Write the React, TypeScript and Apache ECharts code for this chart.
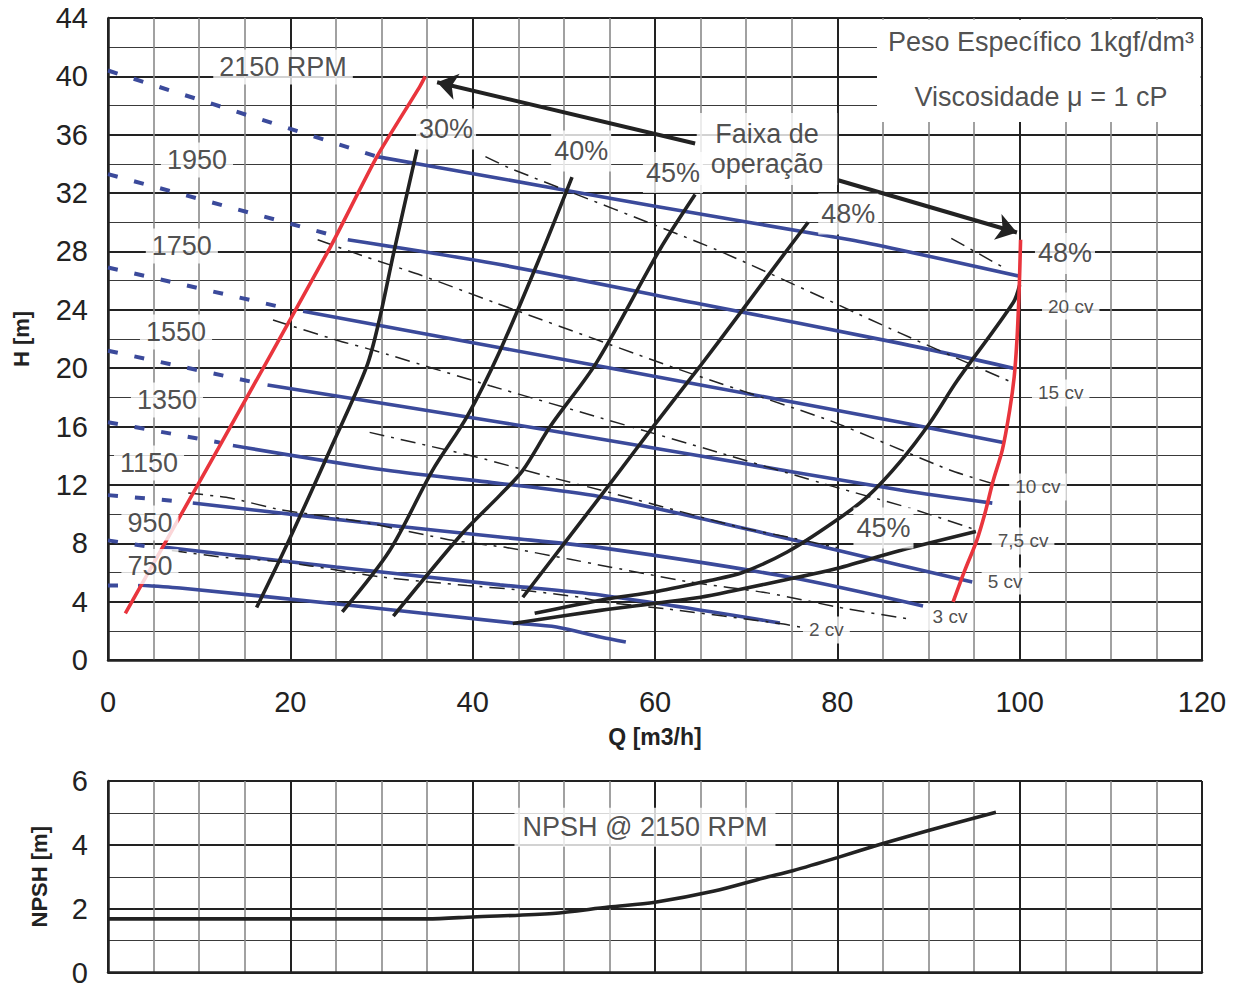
import React, { useEffect, useRef } from "react";
import * as echarts from "echarts";

type P = [number, number];

// ---------- Tick ranges ----------
const qTicks = { min: 0, max: 120, step: 20 };
const hTicks = { min: 0, max: 44, step: 4 };
const npshTicks = { min: 0, max: 6, step: 2 };

// ---------- RPM curves (H [m] vs Q [m3/h]) ----------
const rpm2150Dashed: P[] = [[0, 40.4], [29.5, 34.5]];
const rpm2150: P[] = [[29.5, 34.5], [43, 33.0], [60, 31.1], [81.4, 28.8], [86.9, 28.1], [100, 26.3]];
const rpm1950Dashed: P[] = [[0, 33.3], [24.7, 29.1]];
const rpm1950: P[] = [[26.3, 28.8], [43, 27.1], [65, 24.4], [86.9, 21.7], [99.3, 20.0]];
const rpm1750Dashed: P[] = [[0, 26.9], [18.9, 24.2]];
const rpm1750: P[] = [[21.4, 23.9], [43, 21.4], [65, 18.85], [86.9, 16.3], [98.2, 14.9]];
const rpm1550Dashed: P[] = [[0, 21.2], [15.9, 19.05]];
const rpm1550: P[] = [[17.5, 18.85], [43, 16.3], [54, 15.15], [65, 13.98], [86.9, 11.65], [97, 10.75]];
const rpm1350Dashed: P[] = [[0, 16.3], [12.3, 14.9]];
const rpm1350: P[] = [[13.7, 14.7], [30.6, 13.0], [43, 12.1], [54, 11.19], [71.5, 8.77], [86.9, 6.5], [94.8, 5.35]];
const rpm1150Dashed: P[] = [[0, 11.3], [7.35, 10.9]];
const rpm1150: P[] = [[9.3, 10.76], [29.8, 9.3], [43, 8.43], [54, 7.7], [74.5, 5.7], [89.4, 3.7]];
const rpm950Dashed: P[] = [[0, 8.2], [4.1, 7.8]];
const rpm950: P[] = [[6.0, 7.75], [25, 6.37], [43, 5.15], [54, 4.45], [73.7, 2.54]];
const rpm750Dashed: P[] = [[0, 5.1], [2.7, 5.12]];
const rpm750: P[] = [[3.3, 5.14], [7.9, 4.93], [26.2, 3.77], [44.4, 2.54], [49.2, 2.26], [54, 1.58], [56.8, 1.23]];

// ---------- Iso-efficiency curves ----------
const eff30: P[] = [[16.3, 3.6], [19.7, 8.0], [24.35, 14.4], [28.37, 20.1], [29.83, 23.5], [31.3, 27.8], [33.9, 35.0]];
const eff40: P[] = [[25.7, 3.3], [30.9, 7.5], [35.6, 13.0], [39.4, 16.7], [43, 21.2], [47.5, 27.8], [50.9, 33.1]];
const eff45: P[] = [[31.3, 3.0], [38.9, 8.7], [43, 11.3], [45.5, 13.0], [48.5, 16.0], [53.6, 20.4], [60.5, 28.1], [64.4, 31.9]];
const eff48: P[] = [[45.5, 4.3], [50.3, 8.2], [55.1, 12.1], [59.8, 16.0], [64.9, 20.1], [69.6, 24.0], [74.5, 28.1], [76.8, 30.0]];
const effLowA: P[] = [[44.4, 2.5], [54, 3.4], [60.2, 3.9], [65, 4.3], [69, 4.8], [75.1, 5.6], [79.5, 6.2], [86.9, 7.5], [95.2, 8.8]];
const effLowB: P[] = [[46.8, 3.2], [54, 4.1], [60.2, 4.7], [66, 5.45], [69.6, 6.0], [74.5, 7.4], [79.5, 9.4], [83.3, 11.2], [86.9, 13.6], [90.2, 16.3], [93.1, 19.1], [99.3, 24.5], [100, 25.7]];

// ---------- Operating-range limits (red) ----------
const limitLeft: P[] = [[1.9, 3.2], [12.1, 14.5], [24.3, 28.2], [29.5, 34.5], [34.2, 39.3], [34.8, 40.0]];
const limitRight: P[] = [[100.1, 28.8], [100, 26.5], [99.9, 24.6], [99.7, 21.9], [99.4, 19.4], [98.9, 17.1], [98.1, 14.4], [97.1, 12.3], [96.2, 10.07], [95.3, 8.2], [94.0, 6.17], [92.7, 3.98]];

// ---------- Power lines (cv) ----------
const pw20: P[] = [[92.5, 28.9], [98.5, 26.8]];
const pw15: P[] = [[41.4, 34.5], [44.1, 33.7], [66.8, 28.1], [86.9, 22.4], [98.9, 19.1]];
const pw10: P[] = [[23.0, 28.8], [28.4, 27.6], [34.2, 26.4], [42.4, 24.5], [62.7, 19.9], [79.2, 16.4], [92.4, 13.0], [97.5, 12.0]];
const pw75: P[] = [[18.1, 23.3], [25.2, 21.9], [29.3, 21.2], [41.9, 18.8], [54.0, 16.6], [67.1, 14.2], [79.5, 11.9], [88.0, 10.4], [95.3, 8.9]];
const pw5: P[] = [[28.7, 15.6], [40.5, 13.9], [48.7, 12.5], [54, 11.65], [69.3, 9.1], [74.8, 8.4], [80, 7.7]];
const pw3: P[] = [[8.8, 11.45], [13.4, 11.1], [18.9, 10.3], [27.6, 9.5], [37.8, 8.2], [43.8, 7.7], [50.7, 6.9], [54, 6.5], [63.8, 5.35], [72.3, 4.6], [81.1, 3.5], [88, 2.8]];
const pw2: P[] = [[7.0, 7.5], [13.2, 7.0], [17.8, 6.8], [22.2, 6.45], [29.8, 5.7], [39.4, 5.1], [45.2, 4.8], [51.8, 4.3], [54, 4.0], [61.3, 3.5], [73.7, 2.5], [76.5, 2.2]];

// ---------- NPSH @ 2150 RPM ----------
const npsh: P[] = [[0, 1.68], [35, 1.68], [40, 1.74], [48.8, 1.85], [54.9, 2.05], [60, 2.2], [66.5, 2.55], [71.9, 2.96], [75.1, 3.19], [80, 3.6], [85, 4.04], [90, 4.45], [97.4, 5.02]];

// ---------- Arrows (Faixa de operação) ----------
const arrowLeft: P[] = [[64.4, 35.4], [36.1, 39.6]];
const arrowRight: P[] = [[80, 32.9], [99.7, 29.3]];

// ---------- Annotation texts & anchors (data coordinates) ----------
const rpmTexts = ["2150 RPM", "1950", "1750", "1550", "1350", "1150", "950", "750"];
const rpmAnchors: P[] = [[19.2, 40.64], [9.76, 34.27], [8.1, 28.37], [7.46, 22.48], [6.47, 17.82], [4.5, 13.5], [4.6, 9.39], [4.6, 6.41]];
const effTexts = ["30%", "40%", "45%", "48%", "48%", "45%"];
const effAnchors: P[] = [[37.08, 36.39], [51.9, 34.88], [61.97, 33.41], [81.2, 30.57], [104.97, 27.86], [85.06, 9.05]];
const cvTexts = ["20 cv", "15 cv", "10 cv", "7,5 cv", "5 cv", "3 cv", "2 cv"];
const cvAnchors: P[] = [[105.6, 24.26], [104.5, 18.3], [102.0, 11.86], [100.37, 8.16], [98.4, 5.41], [92.36, 2.95], [78.8, 2.06]];
const infoTexts = ["Peso Específico 1kgf/dm³", "Viscosidade μ = 1 cP"];
const infoAnchors: P[] = [[102.34, 42.36], [102.34, 38.59]];
const infoBox: P[] = [[84.35, 36.87], [119.85, 43.88]];
const rangeText = "Faixa de\noperação";
const rangeAnchor: P = [72.29, 35.02];
const npshText = "NPSH @ 2150 RPM";
const npshAnchor: P = [58.9, 4.55];

const FONT = '"Liberation Sans", Arial, Helvetica, sans-serif';
const BLUE = "#3b4a9b";
const RED = "#e9353d";
const INK = "#222222";
const TEXT = "#222222";

function curve(data: P[], color: string, width: number, type: any, z: number, smooth: number, axis = 0) {
  return {
    type: "line",
    data,
    xAxisIndex: axis,
    yAxisIndex: axis,
    showSymbol: false,
    symbol: "none",
    smooth,
    silent: true,
    z,
    lineStyle: { color, width, type, cap: "butt" },
    emphasis: { disabled: true },
  };
}

function labels(texts: string[], anchors: P[], style: any, axis = 0, z = 10) {
  return {
    type: "scatter",
    xAxisIndex: axis,
    yAxisIndex: axis,
    symbolSize: 0,
    silent: true,
    z,
    data: texts.map((t, i) => ({ value: anchors[i], label: { formatter: t } })),
    label: { show: true, position: "inside", color: TEXT, fontFamily: FONT, ...style },
    emphasis: { disabled: true },
  };
}

function xAxisDef(grid: number, withLabels: boolean) {
  return {
    gridIndex: grid,
    type: "value",
    min: qTicks.min,
    max: qTicks.max,
    interval: qTicks.step,
    axisLine: { show: true, onZero: false, lineStyle: { color: INK, width: 2.5 } },
    axisTick: { show: false },
    axisLabel: { show: withLabels, fontSize: 29, color: TEXT, margin: 27, fontFamily: FONT },
    splitLine: { show: true, lineStyle: { color: INK, width: 2 } },
    minorTick: { show: true, splitNumber: 4, length: 0, lineStyle: { width: 0 } },
    minorSplitLine: { show: true, lineStyle: { color: "#8a8a8a", width: 1.6 } },
    name: withLabels ? "Q [m3/h]" : "",
    nameLocation: "middle",
    nameGap: 65,
    nameTextStyle: { fontSize: 23, fontWeight: "bold", color: INK, fontFamily: FONT },
  };
}

function yAxisDef(grid: number, t: { min: number; max: number; step: number }, name: string, gap: number) {
  return {
    gridIndex: grid,
    type: "value",
    min: t.min,
    max: t.max,
    interval: t.step,
    axisLine: { show: true, onZero: false, lineStyle: { color: INK, width: 2.5 } },
    axisTick: { show: false },
    axisLabel: { fontSize: 29, color: TEXT, margin: 20, fontFamily: FONT },
    splitLine: { show: true, lineStyle: { color: INK, width: 2 } },
    minorTick: { show: true, splitNumber: 2, length: 0, lineStyle: { width: 0 } },
    minorSplitLine: { show: true, lineStyle: { color: "#3a3a3a", width: 1.1 } },
    name,
    nameLocation: "middle",
    nameGap: gap,
    nameTextStyle: { fontSize: 22, fontWeight: "bold", color: INK, fontFamily: FONT },
  };
}

function buildOption() {
  const blueDash = [10, 17];
  const dashDot = [15, 7, 3, 7];
  const series: any[] = [
    // dashed (outside range) RPM parts
    curve(rpm2150Dashed, BLUE, 4, blueDash, 3, 0),
    curve(rpm1950Dashed, BLUE, 4, blueDash, 3, 0),
    curve(rpm1750Dashed, BLUE, 4, blueDash, 3, 0),
    curve(rpm1550Dashed, BLUE, 4, blueDash, 3, 0),
    curve(rpm1350Dashed, BLUE, 4, blueDash, 3, 0),
    curve(rpm1150Dashed, BLUE, 4, blueDash, 3, 0),
    curve(rpm950Dashed, BLUE, 4, blueDash, 3, 0),
    curve(rpm750Dashed, BLUE, 4, blueDash, 3, 0),
    // solid RPM parts
    curve(rpm2150, BLUE, 3.6, "solid", 3, 0.3),
    curve(rpm1950, BLUE, 3.6, "solid", 3, 0.3),
    curve(rpm1750, BLUE, 3.6, "solid", 3, 0.3),
    curve(rpm1550, BLUE, 3.6, "solid", 3, 0.3),
    curve(rpm1350, BLUE, 3.6, "solid", 3, 0.3),
    curve(rpm1150, BLUE, 3.6, "solid", 3, 0.3),
    curve(rpm950, BLUE, 3.6, "solid", 3, 0.3),
    curve(rpm750, BLUE, 3.6, "solid", 3, 0.3),
    // power lines
    curve(pw20, INK, 1.5, dashDot, 3, 0),
    curve(pw15, INK, 1.5, dashDot, 3, 0.2),
    curve(pw10, INK, 1.5, dashDot, 3, 0.2),
    curve(pw75, INK, 1.5, dashDot, 3, 0.2),
    curve(pw5, INK, 1.5, dashDot, 3, 0.2),
    curve(pw3, INK, 1.5, dashDot, 3, 0.2),
    curve(pw2, INK, 1.5, dashDot, 3, 0.2),
    // efficiency curves
    curve(eff30, INK, 3.6, "solid", 4, 0.3),
    curve(eff40, INK, 3.6, "solid", 4, 0.3),
    curve(eff45, INK, 3.6, "solid", 4, 0.3),
    curve(eff48, INK, 3.6, "solid", 4, 0.3),
    curve(effLowA, INK, 3.6, "solid", 4, 0.3),
    curve(effLowB, INK, 3.6, "solid", 4, 0.3),
    // limits
    curve(limitLeft, RED, 3.6, "solid", 5, 0.2),
    curve(limitRight, RED, 3.6, "solid", 5, 0.3),
    // NPSH
    curve(npsh, INK, 3.6, "solid", 5, 0.3, 1),
    // arrows
    {
      type: "lines",
      coordinateSystem: "cartesian2d",
      xAxisIndex: 0,
      yAxisIndex: 0,
      symbol: ["none", "arrow"],
      symbolSize: 20,
      silent: true,
      z: 6,
      lineStyle: { color: INK, width: 4, opacity: 1, curveness: 0 },
      data: [{ coords: arrowLeft }, { coords: arrowRight }],
    },
    // info box background
    {
      type: "scatter",
      xAxisIndex: 0,
      yAxisIndex: 0,
      symbolSize: 0,
      silent: true,
      z: 8,
      data: [infoBox[0]],
      markArea: {
        silent: true,
        itemStyle: { color: "#ffffff", borderWidth: 0 },
        data: [[{ coord: infoBox[0] }, { coord: infoBox[1] }]],
      },
    },
    labels([rangeText], [rangeAnchor], { fontSize: 27, lineHeight: 30, align: "center", backgroundColor: "#fff", padding: [6, 14] }, 0, 9),
    labels(rpmTexts, rpmAnchors, { fontSize: 27, backgroundColor: "#fff", padding: [4, 6] }),
    labels(effTexts, effAnchors, { fontSize: 27, backgroundColor: "#fff", padding: [7, 3] }),
    labels(cvTexts, cvAnchors, { fontSize: 19, backgroundColor: "#fff", padding: [4, 6] }),
    labels(infoTexts, infoAnchors, { fontSize: 27 }),
    labels([npshText], [npshAnchor], { fontSize: 27, backgroundColor: "#fff", padding: [6, 8] }, 1),
  ];

  return {
    animation: false,
    backgroundColor: "#ffffff",
    textStyle: { fontFamily: FONT },
    grid: [
      { left: 108, top: 18, width: 1094, height: 642 },
      { left: 108, top: 781, width: 1094, height: 195 },
    ],
    xAxis: [xAxisDef(0, true), xAxisDef(1, false)],
    yAxis: [yAxisDef(0, hTicks, "H [m]", 76), yAxisDef(1, npshTicks, "NPSH [m]", 58)],
    series,
  };
}

export default function App() {
  const ref = useRef<HTMLDivElement>(null);
  useEffect(() => {
    if (!ref.current) return;
    const chart = echarts.init(ref.current, null, { renderer: "svg" });
    chart.setOption(buildOption() as any);
    return () => chart.dispose();
  }, []);
  return (
    <div
      ref={ref}
      style={{ position: "absolute", left: 0, top: 0, width: 1241, height: 987, background: "#fff" }}
    />
  );
}
